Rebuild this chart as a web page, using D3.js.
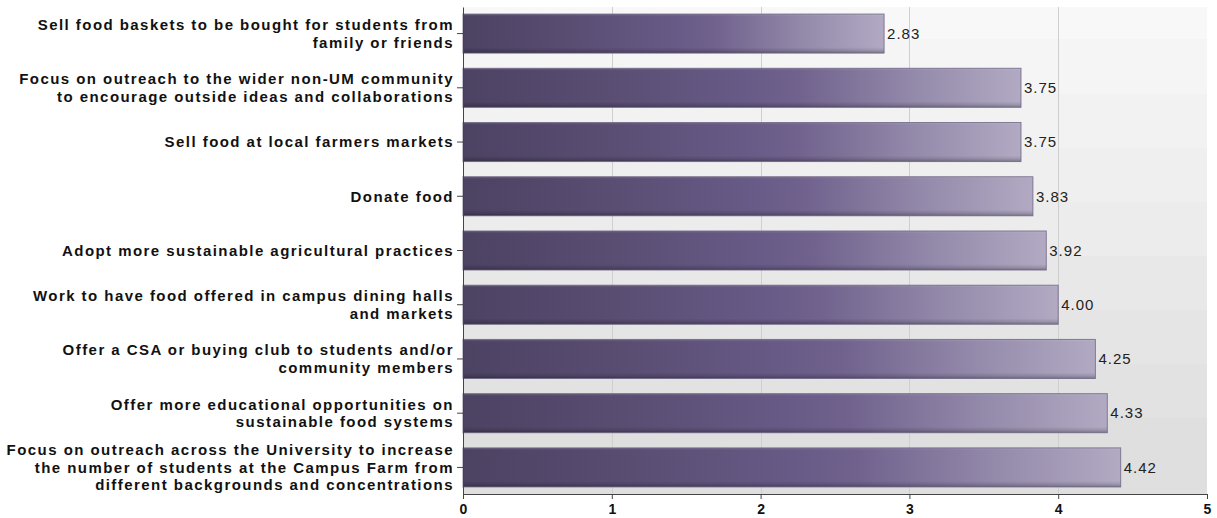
<!DOCTYPE html>
<html>
<head>
<meta charset="utf-8">
<script src="https://cdn.jsdelivr.net/npm/d3@7"></script>
<style>
  html, body { margin: 0; padding: 0; background: #ffffff; }
  svg { display: block; }
</style>
</head>
<body>
<svg id="chart" width="1217" height="518"></svg>
<script>
// Survey items (label lines) and their mean ratings
const categories = [
  ["Sell food baskets to be bought for students from", "family or friends"],
  ["Focus on outreach to the wider non-UM community", "to encourage outside ideas and collaborations"],
  ["Sell food at local farmers markets"],
  ["Donate food"],
  ["Adopt more sustainable agricultural practices"],
  ["Work to have food offered in campus dining halls", "and markets"],
  ["Offer a CSA or buying club to students and/or", "community members"],
  ["Offer more educational opportunities on", "sustainable food systems"],
  ["Focus on outreach across the University to increase", "the number of students at the Campus Farm from", "different backgrounds and concentrations"]
];
const values = [2.83, 3.75, 3.75, 3.83, 3.92, 4.00, 4.25, 4.33, 4.42];
const xTicks = [0, 1, 2, 3, 4, 5];

const svg = d3.select("#chart");
const margin = { left: 463, top: 7, right: 10, bottom: 24 };
const W = 1217, H = 518;
const plotW = W - margin.left - margin.right;   // 744
const plotH = H - margin.top - margin.bottom;   // 487

const keys = categories.map((c, i) => i);
const x = d3.scaleLinear().domain([0, 5]).range([0, plotW]);
const y = d3.scaleBand().domain(keys).range([0, plotH])
  .paddingInner(0.28).paddingOuter(0.13);

const defs = svg.append("defs");

// stepped light-gray backdrop, lighter at the top
const bgGrad = defs.append("linearGradient").attr("id", "bgGrad")
  .attr("x1", 0).attr("y1", 0).attr("x2", 0).attr("y2", 1);
const bgSteps = 9;
const bgColor = d3.interpolateRgb("#f8f8f8", "#dfdfdf");
for (let i = 0; i < bgSteps; i++) {
  const c = bgColor(i / (bgSteps - 1));
  const a = (i === 0 ? 0 : (i - 0.4) / bgSteps);
  const b = (i === bgSteps - 1 ? 1 : (i + 0.6) / bgSteps);
  bgGrad.append("stop").attr("offset", Math.max(0, a)).attr("stop-color", c);
  bgGrad.append("stop").attr("offset", Math.min(1, b)).attr("stop-color", c);
}

// horizontal purple ramp along each bar
const barGrad = defs.append("linearGradient").attr("id", "barGrad")
  .attr("x1", 0).attr("y1", 0).attr("x2", 1).attr("y2", 0);
[[0, "#4c4262"], [0.25, "#594d72"], [0.5, "#675a86"], [0.6, "#70628d"],
 [0.8, "#9288a9"], [1, "#b2aac3"]].forEach(([o, c]) =>
  barGrad.append("stop").attr("offset", o).attr("stop-color", c));

// vertical shading for a slight bevel
const shadeGrad = defs.append("linearGradient").attr("id", "shadeGrad")
  .attr("x1", 0).attr("y1", 0).attr("x2", 0).attr("y2", 1);
[[0, "#ffffff", 0.12], [0.06, "#ffffff", 0.0], [0.85, "#000000", 0.0],
 [0.93, "#000000", 0.12], [1, "#000000", 0.3]].forEach(([o, c, a]) =>
  shadeGrad.append("stop").attr("offset", o).attr("stop-color", c).attr("stop-opacity", a));

const g = svg.append("g").attr("transform", `translate(${margin.left},${margin.top})`);

g.append("rect").attr("width", plotW).attr("height", plotH).attr("fill", "url(#bgGrad)");

// vertical gridlines
g.append("g").selectAll("line").data(xTicks.slice(1, -1)).join("line")
  .attr("x1", d => Math.round(x(d)) + 0.5).attr("x2", d => Math.round(x(d)) + 0.5)
  .attr("y1", 0).attr("y2", plotH)
  .attr("stroke", "#cfcfcf").attr("stroke-width", 1);

// bars
const bars = g.append("g").selectAll("g").data(values).join("g")
  .attr("transform", (d, i) => `translate(0,${y(i)})`);
bars.append("rect")
  .attr("x", 0).attr("y", 0)
  .attr("width", d => x(d)).attr("height", y.bandwidth())
  .attr("fill", "url(#barGrad)");
bars.append("rect")
  .attr("x", 0).attr("y", 0)
  .attr("width", d => x(d)).attr("height", y.bandwidth())
  .attr("fill", "url(#shadeGrad)")
  .attr("stroke", "#6e6585").attr("stroke-width", 1).attr("stroke-opacity", 0.8);

// value labels
bars.append("text")
  .attr("x", d => x(d) + 3).attr("y", y.bandwidth() / 2)
  .attr("dy", "0.35em")
  .attr("font-family", "Liberation Sans, Arial, sans-serif")
  .attr("font-size", 15).attr("letter-spacing", 1).attr("fill", "#222")
  .text(d => d.toFixed(2));

// x axis
const xAxis = g.append("g").attr("transform", `translate(0,${plotH})`)
  .call(d3.axisBottom(x).tickValues(xTicks).tickFormat(d3.format("d")).tickSize(5).tickSizeOuter(0));
xAxis.select(".domain").attr("stroke", "#444");
xAxis.selectAll(".tick line").attr("stroke", "#444");
xAxis.selectAll(".tick text")
  .attr("font-family", "Liberation Sans, Arial, sans-serif")
  .attr("font-weight", "bold").attr("font-size", 14).attr("fill", "#111")
  .attr("dy", "0.71em").attr("y", 10);

// y axis with multi-line category labels
const yAxis = g.append("g")
  .call(d3.axisLeft(y).tickSize(6).tickSizeOuter(0).tickPadding(10).tickFormat(() => ""));
yAxis.select(".domain").attr("stroke", "#444");
yAxis.selectAll(".tick line").attr("stroke", "#444");
yAxis.selectAll(".tick text").each(function (d) {
  const lines = categories[d];
  const lh = 17.5;
  const t = d3.select(this)
    .attr("font-family", "Liberation Sans, Arial, sans-serif")
    .attr("font-weight", "bold").attr("font-size", 15)
    .attr("letter-spacing", 1.45).attr("fill", "#111")
    .attr("dy", null);
  lines.forEach((s, k) => {
    t.append("tspan").attr("x", -9)
      .attr("y", (k - (lines.length - 1) / 2) * lh)
      .attr("dy", "0.35em").text(s);
  });
});
</script>
</body>
</html>
